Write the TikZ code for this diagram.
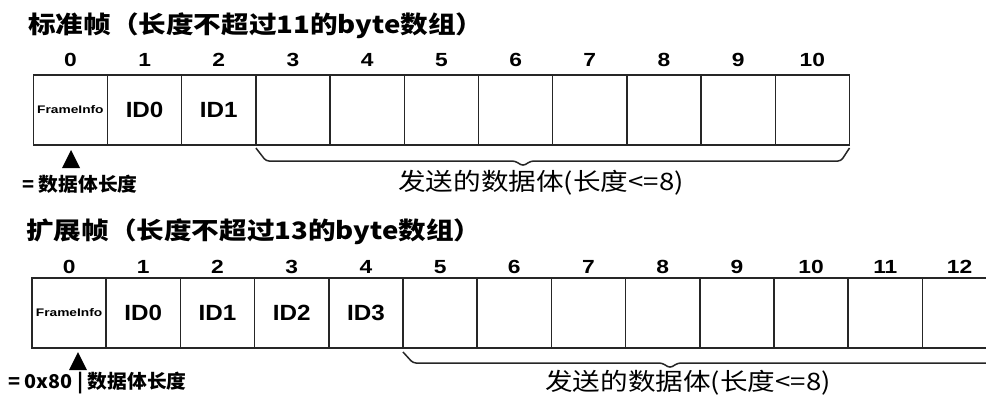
\documentclass[tikz,border=0pt]{standalone}
\usepackage{fontspec}
\setmainfont{Liberation Sans}
\newfontfamily\cjk{Noto Sans CJK SC}
\begin{document}
\begin{tikzpicture}[x=1pt,y=-1pt,
  cell/.style={draw=black!85, line width=1.5pt, minimum width=74.2pt, minimum height=70pt, inner sep=0pt, outer sep=0pt},
  idx/.style={font=\fontsize{19}{19}\selectfont\bfseries, xscale=1.2, inner sep=0pt},
  idl/.style={font=\fontsize{22}{22}\selectfont\bfseries, xscale=1.1},
  fi/.style={font=\fontsize{11}{11}\selectfont\bfseries, xscale=1.25},
  ttl/.style={font=\cjk\fontsize{24}{24}\selectfont\bfseries, anchor=west, xscale=1.15, inner sep=0pt},
  body/.style={font=\cjk\fontsize{24}{24}\selectfont, xscale=1.15, inner sep=0pt},
  note/.style={font=\cjk\fontsize{19}{19}\selectfont\bfseries, anchor=west, xscale=1.04, inner sep=0pt},
  brc/.style={draw=black!85, line width=1.5pt, rounded corners=3pt}]
\clip (0,0) rectangle (986,396);
\fill[white] (0,0) rectangle (986,396);

% ---- standard frame ----
\node[ttl] (title1) at (28,26) {标准帧（长度不超过11的byte数组）};
\foreach \i in {0,...,10}{
  \node[cell] (t\i) at ({33.3+74.2*(\i+0.5)},110) {};
  \node[idx] (tn\i) at ({33.3+74.2*(\i+0.5)},60) {\i};
}
\node[fi] at (t0) {FrameInfo};
\node[idl] at (t1) {ID0};
\node[idl] at (t2) {ID1};
\coordinate (ta) at (71,150);
\fill (ta) -- ++(9,18) -- ++(-18,0) -- cycle;
\node[note] (n1) at (22,184) {= 数据体长度};
\coordinate (tb1) at ([yshift=-3pt]t3.south west);
\coordinate (tb2) at ([yshift=-3pt]t10.south east);
\draw[brc] (tb1) -- (266,161) -- (515,161) -- (523,166) -- (531,161) -- (841,161) -- (tb2);
\node[body] (l1) at (541,183) {发送的数据体(长度<=8)};

% ---- extended frame ----
\node[ttl] (title2) at (26,232) {扩展帧（长度不超过13的byte数组）};
\foreach \i in {0,...,12}{
  \node[cell] (b\i) at ({32+74.2*(\i+0.5)},313) {};
  \node[idx] (bn\i) at ({32+74.2*(\i+0.5)},267) {\i};
}
\node[fi] at (b0) {FrameInfo};
\node[idl] at (b1) {ID0};
\node[idl] at (b2) {ID1};
\node[idl] at (b3) {ID2};
\node[idl] at (b4) {ID3};
\coordinate (ba) at (78,352);
\fill (ba) -- ++(9,18) -- ++(-18,0) -- cycle;
\node[note] (n2) at (8,383) {= 0x80 | 数据体长度};
\coordinate (bb1) at ([yshift=-4pt]b5.south west);
\coordinate (bb2) at (1000,363);
\draw[brc] (bb1) -- (413,363) -- (662,363) -- (670,368) -- (678,363) -- (bb2);
\node[body] (l2) at (688,383) {发送的数据体(长度<=8)};
\end{tikzpicture}
\end{document}
